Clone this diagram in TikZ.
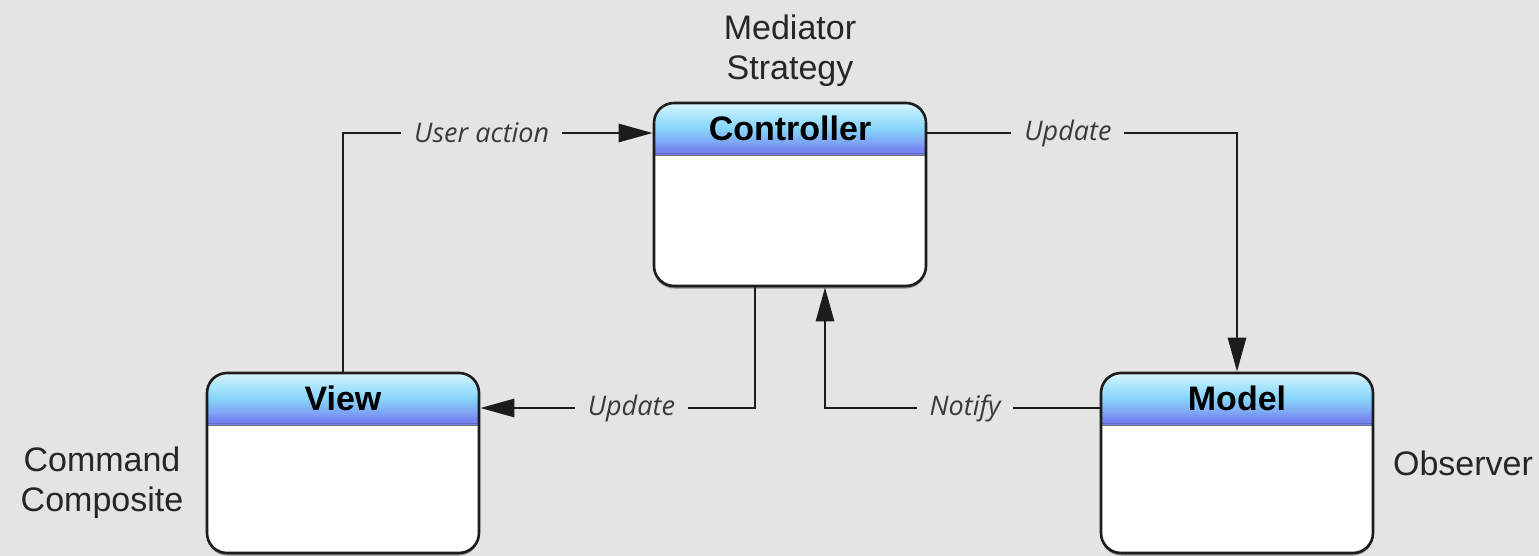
\documentclass[tikz,border=0pt]{standalone}
\usepackage{fontspec}
\setmainfont{Liberation Sans}
\newfontfamily\lblfont{Open Sans}
\usetikzlibrary{arrows.meta}

\definecolor{paper}{HTML}{E4E4E4}
\definecolor{boxline}{HTML}{1C1C1C}
\definecolor{hdtop}{HTML}{DAF5FE}
\definecolor{hdhi}{HTML}{ACE6FC}
\definecolor{hdmid}{HTML}{86D3F9}
\definecolor{hdlow}{HTML}{7FAAF5}
\definecolor{hdbot}{HTML}{7686F0}
\definecolor{hdedge}{HTML}{5E6CC8}
\definecolor{lbltext}{HTML}{3A3A3A}

\tikzset{
  classbox/.style={draw=boxline, line width=2.6pt, rounded corners=20pt,
    fill=white, minimum width=272pt, minimum height=#1, inner sep=0pt,
    path picture={
      % header gradient, built from thin horizontal bands
      \begin{scope}[sharp corners]
      \foreach \ca/\cb/\ys/\ye in {hdtop/hdhi/0/12, hdhi/hdmid/12/26,
          hdmid/hdlow/26/38, hdlow/hdbot/38/46, hdbot/hdbot/46/52}{
        \pgfmathtruncatemacro\ylast{\ye-1}
        \foreach \y in {\ys,...,\ylast}{
          \pgfmathtruncatemacro\p{100*(\y-\ys)/(\ye-\ys)}
          \pgfmathsetmacro\ybot{\y+1.4}
          \fill[\cb!\p!\ca]
            ([yshift=-\y pt]path picture bounding box.north west) rectangle
            ([yshift=-\ybot pt]path picture bounding box.north east);
        }
      }
      \draw[hdedge, line width=1.2pt]
        ([yshift=-50.5pt]path picture bounding box.north west) --
        ([yshift=-50.5pt]path picture bounding box.north east);
      \draw[black!55, line width=1.4pt]
        ([yshift=-52.5pt]path picture bounding box.north west) --
        ([yshift=-52.5pt]path picture bounding box.north east);
      \end{scope}
    }},
  boxshadow/.style={fill=black!45, rounded corners=20pt, inner sep=0pt,
    minimum width=272pt, minimum height=#1},
  boxtitle/.style={font=\bfseries\fontsize{34}{40}\selectfont, inner sep=0pt},
  sidetext/.style={font=\fontsize{34}{40}\selectfont, align=center, text=black!85, inner sep=0pt},
  conn/.style={draw=boxline, line width=2.8pt,
    -{Triangle[length=34pt, width=18pt]}},
  lbl/.style={font=\lblfont\itshape\fontsize{27}{32}\selectfont, text=lbltext,
    fill=paper, inner xsep=13pt, inner ysep=4pt},
}

\begin{document}
\begin{tikzpicture}[x=1pt, y=-1pt]
  % page
  \fill[paper] (0,0) rectangle (1539,556);
  \useasboundingbox (0,0) rectangle (1539,556);

  % soft shadows under the classes
  \node[boxshadow=183pt] (ctrlS)  at (790,197) {};
  \node[boxshadow=180pt] (viewS)  at (343,465.5) {};
  \node[boxshadow=180pt] (modelS) at (1237,465.5) {};

  % classes
  \node[classbox=183pt] (ctrl)  at (790,194.5) {};
  \node[classbox=180pt] (view)  at (343,463) {};
  \node[classbox=180pt] (model) at (1237,463) {};

  \node[boxtitle] (ctrlT)  at ([yshift=-27pt]ctrl.north)  {Controller};
  \node[boxtitle] (viewT)  at ([yshift=-27pt]view.north)  {View};
  \node[boxtitle] (modelT) at ([yshift=-27pt]model.north) {Model};

  % pattern names
  \node[sidetext] (ctrlP)  at (790,51)  {Mediator\\Strategy};
  \node[sidetext] (viewP)  at (102,483) {Command\\Composite};
  \node[sidetext] (modelP) at (1463,463) {Observer};

  % ports on the box edges
  \coordinate (ctrlIn)  at ([yshift=61.5pt]ctrl.west);
  \coordinate (ctrlOut) at ([yshift=61.5pt]ctrl.east);
  \coordinate (ctrlDn)  at ([xshift=-35pt]ctrl.south);
  \coordinate (ctrlUp)  at ([xshift=35pt]ctrl.south);
  \coordinate (viewIn)  at ([yshift=55pt]view.east);
  \coordinate (modelOut) at ([yshift=55pt]model.west);

  % connectors
  \draw[conn] (view.north) |- node[lbl, pos=0.724] (ua) {User action} (ctrlIn);
  \draw[conn] (ctrlOut) -| node[lbl, pos=0.227] (up1) {Update} (model.north);
  \draw[conn] (ctrlDn) |- node[lbl, pos=0.725] (up2) {Update} (viewIn);
  \draw[conn] (modelOut) -| node[lbl, pos=0.245] (nt) {Notify} (ctrlUp);
\end{tikzpicture}
\end{document}
